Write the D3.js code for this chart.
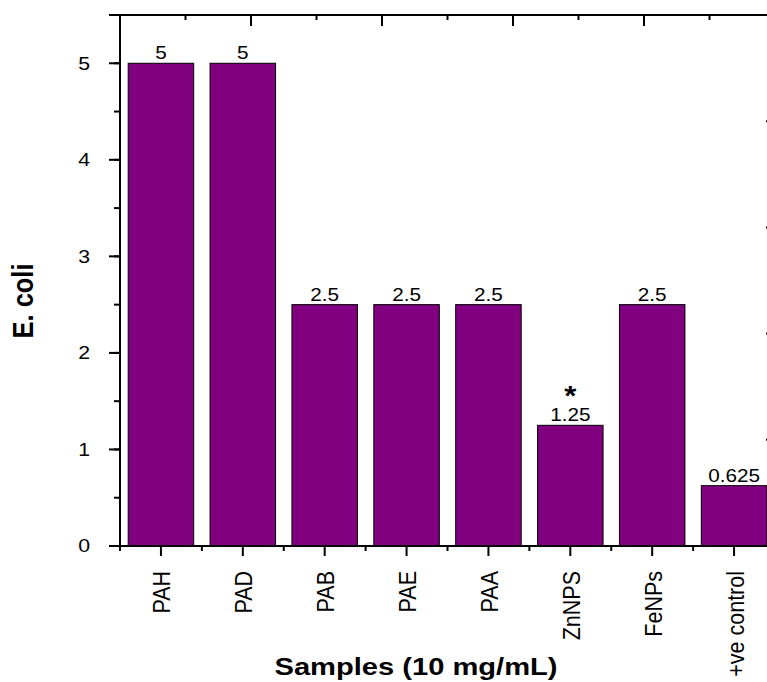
<!DOCTYPE html>
<html>
<head>
<meta charset="utf-8">
<script src="https://cdn.jsdelivr.net/npm/d3@7"></script>
<style>
  body { margin: 0; background: #fff; }
  svg { display: block; font-family: Arial, "Liberation Sans", sans-serif; }
</style>
</head>
<body>
<svg></svg>
<script>
// data
const samples = ['PAH', 'PAD', 'PAB', 'PAE', 'PAA', 'ZnNPS', 'FeNPs', '+ve control']
const mic = [5, 5, 2.5, 2.5, 2.5, 1.25, 2.5, 0.625]
const marks = ['', '', '', '', '', '*', '', '']
const yTicks = [0, 1, 2, 3, 4, 5]

const width = 767
const height = 682
let marge = {top: 15, bottom: 136, left: 120, right: -8}
const w = width - marge.left - marge.right
const h = height - marge.top - marge.bottom
// the original export is a little wider than tall, stretch the glyphs the same way
const sx = 1.15

const svg = d3.select('svg').attr('width', width).attr('height', height)
let g = svg.append('g').attr('transform', 'translate(' + marge.left + ',' + marge.top + ')')

const x = d3.scaleBand().domain(samples).range([0, w]).paddingInner(0.2).paddingOuter(0.1)
const y = d3.scaleLinear().domain([0, 5.5]).range([h, 0])
// mirror axes (top / right) like the original plot
const x2 = d3.scaleLinear().domain([0, 5]).range([0, w])
const y2 = d3.scaleLinear().domain([0, 5]).range([h, 0])

const halves = d3.range(0, 5.51, 0.5)
const cx = d => x(d) + x.bandwidth() / 2

// bars
g.selectAll('.bar').data(mic).enter().append('rect')
  .attr('x', (d, i) => x(samples[i]))
  .attr('y', d => y(d))
  .attr('width', x.bandwidth())
  .attr('height', d => h - y(d))
  .attr('fill', '#800080')
  .attr('stroke', '#000').attr('stroke-width', 1)

// value labels
g.selectAll('.val').data(mic).enter().append('text')
  .attr('transform', (d, i) => 'translate(' + cx(samples[i]) + ',' + (y(d) - 4) + ') scale(' + sx + ',1)')
  .attr('text-anchor', 'middle')
  .attr('font-size', 18)
  .text(d => d)

// significance marks
g.selectAll('.sig').data(marks).enter().append('text')
  .attr('transform', (d, i) => 'translate(' + cx(samples[i]) + ',' + (y(mic[i]) - 20) + ') scale(' + sx + ',1)')
  .attr('text-anchor', 'middle')
  .attr('font-size', 27).attr('font-weight', 'bold')
  .text(d => d)

// left axis
const axLeft = g.append('g')
axLeft.selectAll('.minor').data(halves).enter().append('line')
  .attr('x1', -6).attr('x2', 0).attr('y1', d => y(d)).attr('y2', d => y(d))
  .attr('stroke', '#000').attr('stroke-width', 2)
axLeft.selectAll('.major').data(yTicks).enter().append('line')
  .attr('x1', -11).attr('x2', 0).attr('y1', d => y(d)).attr('y2', d => y(d))
  .attr('stroke', '#000').attr('stroke-width', 2)
axLeft.selectAll('text').data(yTicks).enter().append('text')
  .attr('transform', d => 'translate(-30,' + y(d) + ') scale(' + sx + ',1)')
  .attr('text-anchor', 'end').attr('dominant-baseline', 'central')
  .attr('font-size', 18.5)
  .text(d => d)

// bottom axis
const axBottom = g.append('g').attr('transform', 'translate(0,' + h + ')')
axBottom.selectAll('.minor').data(d3.range(samples.length + 1)).enter().append('line')
  .attr('x1', d => d * x.step()).attr('x2', d => d * x.step())
  .attr('y1', 0).attr('y2', 5)
  .attr('stroke', '#000').attr('stroke-width', 2)
axBottom.selectAll('.major').data(samples).enter().append('line')
  .attr('x1', cx).attr('x2', cx)
  .attr('y1', 0).attr('y2', 10)
  .attr('stroke', '#000').attr('stroke-width', 2)
axBottom.selectAll('text').data(samples).enter().append('text')
  .attr('transform', d => 'translate(' + (cx(d) + 1) + ',25) scale(' + sx + ',1) rotate(-90)')
  .attr('text-anchor', 'end').attr('dominant-baseline', 'central')
  .attr('font-size', 21.5)
  .text(d => d)

// top axis (ticks inward)
const axTop = g.append('g')
axTop.selectAll('.minor').data(d3.range(0, 5.01, 0.5)).enter().append('line')
  .attr('x1', d => x2(d)).attr('x2', d => x2(d)).attr('y1', 0).attr('y2', 5)
  .attr('stroke', '#000').attr('stroke-width', 2)
axTop.selectAll('.major').data(d3.range(0, 6)).enter().append('line')
  .attr('x1', d => x2(d)).attr('x2', d => x2(d)).attr('y1', 0).attr('y2', 11)
  .attr('stroke', '#000').attr('stroke-width', 2)

// right axis (ticks inward)
const axRight = g.append('g').attr('transform', 'translate(' + w + ',0)')
axRight.selectAll('.major').data(d3.range(0, 6)).enter().append('line')
  .attr('x1', -9).attr('x2', 0).attr('y1', d => y2(d)).attr('y2', d => y2(d))
  .attr('stroke', '#000').attr('stroke-width', 2)

// frame lines
g.append('line').attr('x1', 0).attr('x2', 0).attr('y1', 0).attr('y2', h).attr('stroke', '#000').attr('stroke-width', 2)
g.append('line').attr('x1', -11).attr('x2', w).attr('y1', h).attr('y2', h).attr('stroke', '#000').attr('stroke-width', 2)
g.append('line').attr('x1', -11).attr('x2', w).attr('y1', 0).attr('y2', 0).attr('stroke', '#000').attr('stroke-width', 2)
g.append('line').attr('x1', w).attr('x2', w).attr('y1', 0).attr('y2', h).attr('stroke', '#000').attr('stroke-width', 2)

// axis titles
svg.append('text')
  .attr('transform', 'translate(33,301) scale(' + sx + ',1) rotate(-90)')
  .attr('text-anchor', 'middle')
  .attr('font-size', 25.5).attr('font-weight', 'bold')
  .text('E. coli')

svg.append('text')
  .attr('x', 416).attr('y', 675)
  .attr('text-anchor', 'middle')
  .attr('font-size', 24).attr('font-weight', 'bold')
  .attr('textLength', 283).attr('lengthAdjust', 'spacingAndGlyphs')
  .text('Samples (10 mg/mL)')
</script>
</body>
</html>
